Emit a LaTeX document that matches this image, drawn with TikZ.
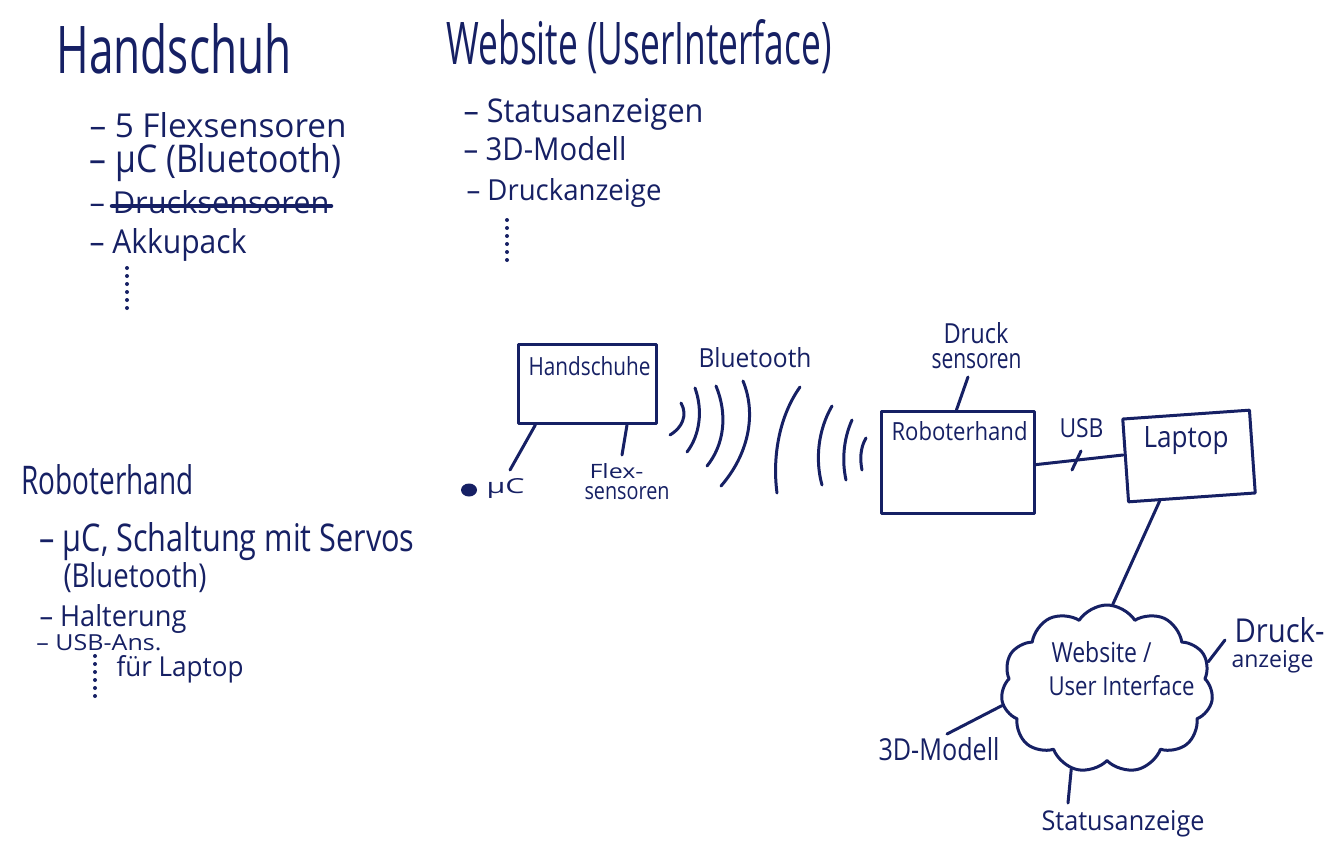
\documentclass[tikz,border=0pt]{standalone}
\usepackage{fontspec}
\setmainfont{Open Sans}
\usepackage{graphicx}
\usetikzlibrary{shapes.symbols,shapes.geometric,calc}
\definecolor{ink}{RGB}{22,32,100}
\newcommand{\hw}[3]{\resizebox{#1pt}{#2pt}{#3}}
\begin{document}
\begin{tikzpicture}[x=1pt,y=-1pt,line width=3pt,line cap=round,line join=round,draw=ink,
  txt/.style={inner sep=0pt,anchor=base west,text=ink},
  boxnode/.style={draw=ink,inner sep=0pt,anchor=north west},
  dots/.style={line width=4pt,dash pattern=on 0pt off 8pt,line cap=round},
  strike/.style={line width=4.5pt}]
\useasboundingbox[fill=white] (0,0) rectangle (1328,859);

% ---- Handschuh list
\node[txt] (t1) at (55,74) {\hw{235}{50}{Handschuh}};
\node[txt] (t1a) at (88,137) {\hw{257}{25}{– 5 Flexsensoren}};
\node[txt] (t1b) at (88,172) {\hw{252}{29}{– µC (Bluetooth)}};
\node[txt] (t1c) at (88,213) {\hw{240}{23}{– Drucksensoren}};
\draw[strike] ($(t1c.base west)+(24,-7)$) -- ($(t1c.base east)+(0,-7)$);
\node[txt] (t1d) at (88,253) {\hw{157}{25}{– Akkupack}};
\coordinate (d1a) at (127,268); \coordinate (d1b) at (127,312);
\draw[dots] (d1a) -- (d1b);

% ---- Website list
\node[txt] (t2) at (445,65) {\hw{385}{45}{Website (UserInterface)}};
\node[txt] (t2a) at (462,122) {\hw{240}{24}{– Statusanzeigen}};
\node[txt] (t2b) at (462,160) {\hw{163}{24}{– 3D-Modell}};
\node[txt] (t2c) at (465,200) {\hw{195}{22}{– Druckanzeige}};
\coordinate (d2a) at (507,220); \coordinate (d2b) at (507,266);
\draw[dots] (d2a) -- (d2b);

% ---- Roboterhand list
\node[txt] (t3) at (20,494) {\hw{172}{30}{Roboterhand}};
\node[txt] (t3a) at (38,551) {\hw{375}{29}{– µC, Schaltung mit Servos}};
\node[txt] (t3b) at (62,587) {\hw{143}{25}{(Bluetooth)}};
\node[txt] (t3c) at (38,626) {\hw{147}{22}{– Halterung}};
\node[txt] (t3d) at (35,650) {\hw{125}{16}{– USB-Ans.}};
\node[txt] (t3e) at (115,676) {\hw{127}{21}{für Laptop}};
\coordinate (d3a) at (95,656); \coordinate (d3b) at (95,700);
\draw[dots] (d3a) -- (d3b);

% ---- Diagram: glove
\node[boxnode,minimum width=138pt,minimum height=79pt] (hs) at (517,343) {};
\node[txt] (hsl) at (527,375) {\hw{122}{19}{Handschuhe}};
\coordinate (mcend) at (510,470);
\draw ($(hs.south west)!0.13!(hs.south east)$) -- (mcend);
\node[fill=ink,ellipse,inner sep=0pt,minimum width=16pt,minimum height=13pt] (mcdot) at (469,490) {};
\node[txt] (mcl) at (485,493) {\hw{38}{15}{µC}};
\coordinate (flexend) at (622,455);
\draw ($(hs.south west)!0.78!(hs.south east)$) -- (flexend);
\node[txt] (fl1) at (588,478) {\hw{54}{15}{Flex-}};
\node[txt] (fl2) at (583,499) {\hw{85}{13}{sensoren}};

% ---- Bluetooth
\node[txt] (bt) at (697,367) {\hw{113}{20}{Bluetooth}};
\draw (681,403) .. controls (688,415) and (682,428) .. (670,435);
\draw (695,388) .. controls (703,410) and (700,435) .. (687,452);
\draw (716,386) .. controls (728,415) and (724,445) .. (707,466);
\draw (743,381) .. controls (757,415) and (748,455) .. (721,486);
\draw (800,387) .. controls (780,415) and (772,455) .. (777,493);
\draw (832,406) .. controls (818,430) and (815,460) .. (822,485);
\draw (852,420) .. controls (843,440) and (842,462) .. (846,480);
\draw (866,438) .. controls (860,448) and (860,460) .. (862,470);

% ---- Roboterhand
\node[boxnode,minimum width=153pt,minimum height=102pt] (rh) at (880,410) {};
\node[txt] (rhl) at (890,440) {\hw{136}{19}{Roboterhand}};
\node[txt] (ds1) at (942,343) {\hw{65}{21}{Druck}};
\node[txt] (ds2) at (930,368) {\hw{90}{15}{sensoren}};
\coordinate (dsend) at (968,377);
\draw ($(rh.north west)!0.49!(rh.north east)$) -- (dsend);

% ---- Laptop
\node[draw=ink,inner sep=0pt,minimum width=127pt,minimum height=83pt,rotate=4] (lp) at (1189,456) {};
\node[txt] (lpl) at (1142,447) {\hw{85}{21}{Laptop}};
\coordinate (usbL) at ($(rh.north east)!0.52!(rh.south east)$);
\coordinate (usbR) at (1123,455);
\draw (usbL) -- (usbR);
\coordinate (tickA) at (1072,470); \coordinate (tickB) at (1081,451);
\draw (tickA) -- (tickB);
\node[txt] (usb) at (1058,437) {\hw{44}{19}{USB}};

% ---- Cloud
\node[cloud,draw=ink,cloud puffs=11,cloud puff arc=115,aspect=1.25,inner sep=0pt,
      minimum width=212pt,minimum height=168pt] (web) at (1107,689) {};
\node[txt] (wl1) at (1050,662) {\hw{100}{21}{Website /}};
\node[txt] (wl2) at (1047,695) {\hw{146}{20}{User Interface}};
\draw ($(lp.south west)!0.25!(lp.south east)$) -- (web.86);

\node[txt] (da1) at (1233,642) {\hw{90}{25}{Druck-}};
\node[txt] (da2) at (1230,667) {\hw{82}{17}{anzeige}};
\coordinate (daend) at (1225,640);
\draw (web.15) -- (daend);

\node[txt] (m3d) at (877,760) {\hw{121}{23}{3D-Modell}};
\coordinate (m3dend) at (947,734);
\draw (web.189) -- (m3dend);

\node[txt] (sta) at (1040,830) {\hw{163}{20}{Statusanzeige}};
\coordinate (staend) at (1068,803);
\draw (web.246) -- (staend);
\end{tikzpicture}
\end{document}
